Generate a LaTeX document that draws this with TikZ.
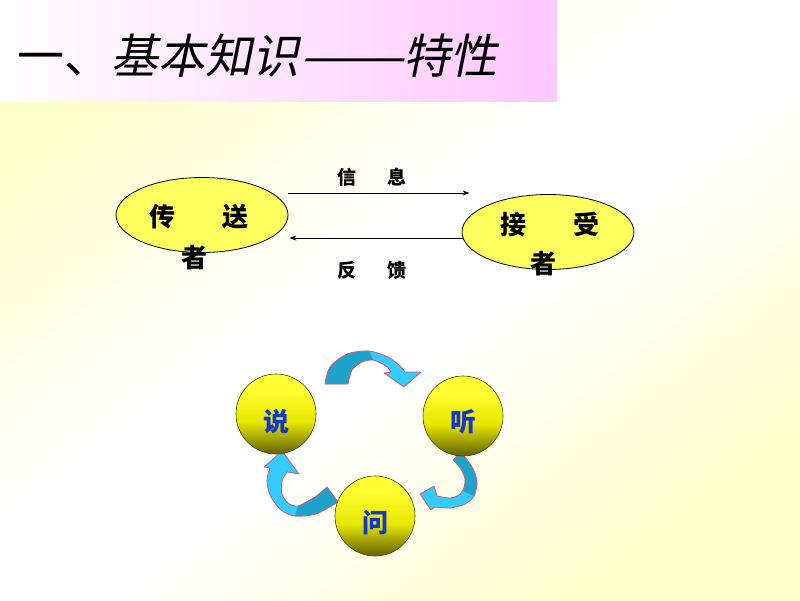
\documentclass[tikz,border=0pt]{standalone}
\usepackage{fontspec}
\usepackage{graphicx}
\newfontfamily\cjk{Noto Sans CJK SC}
\newfontfamily\cjksl[FakeSlant=0.2]{Noto Sans CJK SC}
\usetikzlibrary{shapes.geometric,arrows.meta,calc}
\definecolor{bgy}{HTML}{FFFFCC}
\definecolor{pinkt}{HTML}{FFC8FF}
\definecolor{ellf}{HTML}{FFFF60}
\definecolor{tealdk}{HTML}{1BA3CC}
\definecolor{cyanlt}{HTML}{33CCFF}
\definecolor{arrline}{HTML}{E0507A}
\definecolor{olv}{HTML}{6E6E00}
\definecolor{ylwa}{HTML}{E6E600}
\definecolor{ylwb}{HTML}{FFFF33}
\definecolor{txtblue}{HTML}{1438C8}
\pgfdeclareverticalshading{sph}{100bp}{color(0bp)=(olv); color(27bp)=(olv); color(45bp)=(ylwa); color(65bp)=(ylwb); color(100bp)=(ylwb)}
\pgfdeclarehorizontalshading{bgdiag}{100bp}{color(0bp)=(bgy); color(25bp)=(bgy); color(45bp)=(white); color(55bp)=(white); color(75bp)=(bgy); color(100bp)=(bgy)}
\tikzset{
  ovalbox/.style={ellipse, draw=black, line width=0.8, fill=ellf, minimum width=172, minimum height=75, inner sep=0},
  ovaltext/.style={font=\cjk\bfseries\fontsize{26}{28}\selectfont, inner sep=0},
  lbltext/.style={font=\cjk\bfseries\fontsize{19}{21}\selectfont, inner sep=0},
  ballbox/.style={circle, draw=olv!60!black, line width=0.6, shading=sph, minimum size=80, inner sep=0},
  balltext/.style={font=\cjk\bfseries\fontsize{26}{28}\selectfont, text=txtblue, inner sep=0},
  flowarrow/.style={-{Stealth[length=7,width=5]}, line width=0.8},
  bandline/.style={draw=arrline, line width=0.8, line join=round},
}
\begin{document}
\begin{tikzpicture}[x=1pt,y=1pt]
\useasboundingbox (0,0) rectangle (800,-600);
% background
\shade[shading=bgdiag, shading angle=-53] (0,0) rectangle (800,-600);
% title band
\shade[left color=white, right color=pinkt] (0,0) rectangle (557,-101);
\node[anchor=west, font=\cjk\fontsize{47}{50}\selectfont, inner sep=0] (title) at (17,-56) {一、{\cjksl 基本知识\scalebox{1.33}[1]{——}特性}};

% ellipses
\node[ovalbox] (sender) at (202,-215) {};
\node[ovalbox] (receiver) at (548,-232) {};
\node[ovaltext] (s1) at (199,-217) {传\hspace{1.8em}送};
\node[ovaltext] (s2) at (194,-258) {者};
\node[ovaltext] (r1) at (550,-225) {接\hspace{1.8em}受};
\node[ovaltext] (r2) at (543,-264) {者};

\draw[flowarrow] ($(sender.east)+(0,22)$) -- ($(receiver.west)+(8,39)$);
\draw[flowarrow] ($(receiver.west)+(2,-6)$) -- ($(sender.east)+(1,-23)$);
\node[lbltext] (msg) at (372,-177) {信\hspace{1.6em}息};
\node[lbltext] (fb) at (372,-270) {反\hspace{1.6em}馈};

% curved arrows: top
\fill[cyanlt] plot[smooth] coordinates {(325,-384) (330,-367) (347,-354) (369,-351) (388,-357) (400,-366) (405,-372)} -- (421,-372) -- (404,-387) -- (384,-373) -- (391,-372) -- plot[smooth] coordinates {(391,-372) (386,-366) (373,-360) (362,-362) (352,-370) (348,-384)} -- cycle;
\fill[tealdk] plot[smooth] coordinates {(325,-384) (330,-367) (347,-354) (369,-351)} -- plot[smooth] coordinates {(373,-360) (362,-362) (352,-370) (348,-384)} -- cycle;
\draw[bandline] plot[smooth] coordinates {(325,-384) (330,-367) (347,-354) (369,-351) (388,-357) (400,-366) (405,-372)} -- (421,-372) -- (404,-387) -- (384,-373) -- (391,-372) -- plot[smooth] coordinates {(391,-372) (386,-366) (373,-360) (362,-362) (352,-370) (348,-384)} -- cycle;

% right
\fill[cyanlt] plot[smooth] coordinates {(461,-452) (472,-467) (477,-482) (474,-496) (465,-504) (450,-508) (435,-507)} -- (431,-510) -- (420,-494) -- (434,-486) -- plot[smooth] coordinates {(437,-496) (450,-498) (459,-495) (464,-488) (465,-479) (461,-469) (453,-460)} -- cycle;
\fill[tealdk] plot[smooth] coordinates {(461,-452) (472,-467) (477,-482) (474,-496)} -- plot[smooth] coordinates {(463,-491) (465,-479) (461,-469) (453,-460)} -- cycle;
\draw[bandline] plot[smooth] coordinates {(461,-452) (472,-467) (477,-482) (474,-496) (465,-504) (450,-508) (435,-507)} -- (431,-510) -- (420,-494) -- (434,-486) -- plot[smooth] coordinates {(437,-496) (450,-498) (459,-495) (464,-488) (465,-479) (461,-469) (453,-460)} -- cycle;

% left
\fill[cyanlt] plot[smooth] coordinates {(338,-502) (316,-514) (295,-516) (281,-510) (270,-495) (267,-480) (270,-468)} -- (264,-467) -- (282,-451) -- (299,-474) -- plot[smooth] coordinates {(287,-472) (282,-481) (282,-494) (288,-503) (298,-506) (315,-497) (327,-487)} -- cycle;
\fill[tealdk] plot[smooth] coordinates {(338,-502) (316,-514) (295,-516)} -- plot[smooth] coordinates {(298,-506) (315,-497) (327,-487)} -- cycle;
\draw[bandline] plot[smooth] coordinates {(338,-502) (316,-514) (295,-516) (281,-510) (270,-495) (267,-480) (270,-468)} -- (264,-467) -- (282,-451) -- (299,-474) -- plot[smooth] coordinates {(287,-472) (282,-481) (282,-494) (288,-503) (298,-506) (315,-497) (327,-487)} -- cycle;

% balls
\node[ballbox] (shuo) at (276,-414) {};
\node[ballbox] (ting) at (463,-416) {};
\node[ballbox] (wen) at (375,-516) {};
\node[balltext] (t1) at (276,-422) {说};
\node[balltext] (t2) at (463,-422) {听};
\node[balltext] (t3) at (375,-523) {问};
\end{tikzpicture}
\end{document}
